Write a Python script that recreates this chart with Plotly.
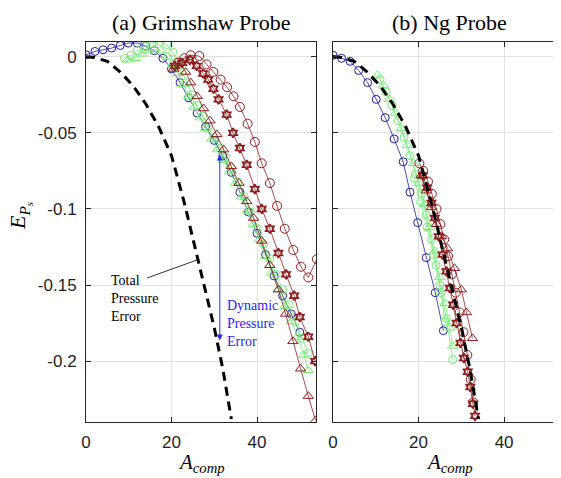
import plotly.graph_objects as go

# ---------------- data ----------------
# total pressure error (black dashed), same in both panels
tot_A = [0, 2, 5, 8, 11, 14, 17, 20, 23, 26, 28, 30, 32, 34]
tot_E = [0, -0.0005, -0.003, -0.01, -0.019, -0.031, -0.046, -0.065, -0.096, -0.131, -0.155, -0.178, -0.205, -0.238]

# (a) Grimshaw probe
g_blue_A = [0, 2.1, 4, 6, 8, 9.9, 12, 14, 16, 18, 20, 22, 24, 26, 28, 30, 32, 34, 36, 38, 40, 42, 44, 46, 48, 50]
g_blue_E = [0.0013, 0.0035, 0.0046, 0.0057, 0.0074, 0.009, 0.009, 0.007, 0.004, -0.001, -0.008, -0.017, -0.027, -0.037, -0.046, -0.055, -0.065, -0.076, -0.089, -0.102, -0.116, -0.13, -0.144, -0.157, -0.169, -0.181]

g_greenc_A = [9, 10.5, 12, 13.8, 15.4, 17.3, 18.9, 20.3, 21.5, 22.5, 23.5, 24.8, 26, 27.3, 28.6, 30, 31.3, 32.6, 34, 35.5, 37, 38.5, 40, 41.5, 43, 44.5, 46, 47.5, 49, 50.5, 52]
g_greenc_E = [-0.001, 0.001, 0.004, 0.007, 0.009, 0.01, 0.008, 0.003, -0.003, -0.01, -0.017, -0.025, -0.032, -0.039, -0.046, -0.053, -0.06, -0.066, -0.073, -0.082, -0.092, -0.102, -0.113, -0.123, -0.133, -0.143, -0.153, -0.163, -0.174, -0.185, -0.195]

g_greent_A = [9.8, 11.5, 13, 14.5, 16, 17.5, 19, 20.3, 21.5, 22.7, 24, 25.3, 26.7, 28, 29.4, 30.8, 32.2, 33.6, 35, 36.4, 37.8, 39.2, 40.6, 42, 43.5, 45, 46.5, 48, 49.5, 51, 52]
g_greent_E = [-0.002, -0.001, 0.002, 0.004, 0.005, 0.004, 0.0, -0.005, -0.011, -0.018, -0.026, -0.033, -0.04, -0.047, -0.054, -0.061, -0.068, -0.075, -0.083, -0.092, -0.101, -0.11, -0.12, -0.131, -0.142, -0.153, -0.164, -0.174, -0.184, -0.196, -0.206]

g_redt_A = [20.5, 22, 23.3, 24.5, 26, 27.5, 29, 30.6, 32.2, 34, 35.8, 37.6, 39.2, 41.1, 43, 45, 46.7, 48.4, 50.2, 52, 53.7]
g_redt_E = [-0.008, -0.004, -0.01, -0.017, -0.026, -0.034, -0.042, -0.051, -0.061, -0.072, -0.083, -0.095, -0.106, -0.121, -0.137, -0.153, -0.169, -0.187, -0.205, -0.223, -0.239]

g_reds_A = [20.8, 22.5, 24.3, 25.9, 27.4, 28.6, 29.8, 31, 32.9, 34.4, 36, 37.6, 39.5, 41.1, 43, 45, 46.8, 48.7, 50, 52, 53.6]
g_reds_E = [-0.006, -0.004, -0.002, -0.006, -0.011, -0.015, -0.021, -0.028, -0.038, -0.05, -0.06, -0.071, -0.087, -0.1, -0.113, -0.129, -0.143, -0.157, -0.171, -0.184, -0.2]

g_redc_A = [21.5, 23, 24.5, 26.5, 28.2, 29.8, 31.5, 33, 34.5, 36, 37.8, 39.5, 41.1, 43, 44.7, 46.5, 48.5, 50.3, 52, 54]
g_redc_E = [-0.004, -0.001, 0.001, 0.0005, -0.005, -0.01, -0.015, -0.02, -0.026, -0.033, -0.044, -0.056, -0.07, -0.083, -0.098, -0.113, -0.127, -0.138, -0.145, -0.133]

# (b) Ng probe
n_blue_A = [0, 2, 4, 6, 8.1, 10.1, 12.2, 14.3, 16.4, 18, 19.8, 21.8, 23.9, 25.8]
n_blue_E = [0.001, -0.001, -0.003, -0.009, -0.017, -0.028, -0.04, -0.054, -0.069, -0.089, -0.109, -0.132, -0.155, -0.18]

n_greenc_A = [11, 12.4, 13.8, 15.2, 16.6, 18, 19.3, 20.6, 21.8, 23, 24.1, 25.2, 26.2]
n_greenc_E = [-0.015, -0.023, -0.032, -0.042, -0.053, -0.065, -0.077, -0.09, -0.104, -0.12, -0.137, -0.155, -0.174]

n_greenc2_A = [19, 20.5, 22, 23.5, 25, 26.5, 28]
n_greenc2_E = [-0.08, -0.095, -0.112, -0.13, -0.15, -0.172, -0.199]

n_greent_A = [10.4, 11.8, 13.2, 14.6, 16, 17.4, 18.8, 20.1, 21.4, 22.6, 23.8, 25, 26.2, 27.3, 28]
n_greent_E = [-0.012, -0.019, -0.028, -0.037, -0.047, -0.058, -0.07, -0.083, -0.097, -0.112, -0.128, -0.145, -0.162, -0.178, -0.19]

n_redc_A = [20.2, 21.1, 22.2, 23.1, 24.2, 25.1, 26, 26.9, 27.8, 28.7, 29.6, 30.5, 31.4, 32.2, 32.8]
n_redc_E = [-0.07, -0.075, -0.082, -0.09, -0.1, -0.11, -0.12, -0.131, -0.143, -0.155, -0.168, -0.181, -0.196, -0.212, -0.227]

n_reds_A = [21, 22, 23, 23.8, 24.7, 25.6, 26.5, 27.3, 28.1, 28.9, 29.8, 30.6, 31.5, 32.1, 32.7, 33.2]
n_reds_E = [-0.078, -0.086, -0.096, -0.106, -0.118, -0.13, -0.141, -0.152, -0.163, -0.175, -0.188, -0.198, -0.207, -0.217, -0.228, -0.236]

n_redt_A = [20.6, 21.8, 23, 24.2, 25.4, 26.8, 28.4, 30, 31.2, 32.6]
n_redt_E = [-0.078, -0.088, -0.099, -0.11, -0.118, -0.126, -0.139, -0.153, -0.168, -0.185]

x_ticks = [0, 20, 40, 60]
y_ticks = [0, -0.05, -0.1, -0.15, -0.2]
y_ticktext = ["0", "-0.05", "-0.1", "-0.15", "-0.2"]

# ---------------- style ----------------
OFF = 8                      # page body margin of the html page
W, H = 561 - OFF, 478 - OFF
BLUE = "rgb(30,30,150)"
GREEN = "rgb(120,235,120)"
RED = "rgb(140,30,30)"
SERIF = "Liberation Serif, Times New Roman, serif"
SANS = "Liberation Sans, Arial, sans-serif"

def px(x):
    return (x - OFF) / W

def py(y):
    return 1 - (y - OFF) / H

fig = go.Figure()

def series(A, E, color, symbol, xa, ya, size=8, lw=1.0):
    fig.add_trace(go.Scatter(
        x=A, y=E, mode="lines+markers", xaxis=xa, yaxis=ya,
        line=dict(color=color, width=0.8),
        marker=dict(symbol=symbol, size=size, color=color,
                    line=dict(color=color, width=lw)),
        showlegend=False))

for xa, ya, blue, gc, gt, rt, rs, rc, extra in [
    ("x", "y", (g_blue_A, g_blue_E), (g_greenc_A, g_greenc_E), (g_greent_A, g_greent_E),
     (g_redt_A, g_redt_E), (g_reds_A, g_reds_E), (g_redc_A, g_redc_E), None),
    ("x2", "y2", (n_blue_A, n_blue_E), (n_greenc_A, n_greenc_E), (n_greent_A, n_greent_E),
     (n_redt_A, n_redt_E), (n_reds_A, n_reds_E), (n_redc_A, n_redc_E), (n_greenc2_A, n_greenc2_E)),
]:
    series(*blue, BLUE, "circle-open", xa, ya)
    series(*gc, GREEN, "circle-open", xa, ya)
    if extra:
        series(*extra, GREEN, "circle-open", xa, ya)
    series(*gt, GREEN, "triangle-up-open", xa, ya, size=9)
    series(*rt, RED, "triangle-up-open", xa, ya, size=9)
    series(*rs, RED, "hexagram-open", xa, ya, size=7, lw=1.8)
    series(*rc, RED, "circle-open", xa, ya, size=9)
    fig.add_trace(go.Scatter(x=tot_A, y=tot_E, mode="lines", xaxis=xa, yaxis=ya,
                             line=dict(color="black", width=3, dash="9px,6px"),
                             showlegend=False))

AX = "rgb(38,38,38)"
GRID = "rgb(225,225,225)"
common_x = dict(tickvals=x_ticks, ticks="inside", ticklen=5, tickcolor=AX,
                showline=True, linecolor=AX, linewidth=1, showgrid=True,
                gridcolor=GRID, gridwidth=1, zeroline=False, automargin=False,
                ticklabelstandoff=5,
                tickfont=dict(family=SANS, size=17, color="rgb(30,30,30)"))
common_y = dict(tickvals=y_ticks, ticktext=y_ticktext, ticks="inside", ticklen=5,
                tickcolor=AX, showline=True, linecolor=AX, linewidth=1,
                showgrid=True, gridcolor=GRID, gridwidth=1, zeroline=False,
                range=[-0.24, 0.0097], automargin=False,
                tickfont=dict(family=SANS, size=17, color="rgb(30,30,30)"))

fig.update_layout(
    width=W, height=H, margin=dict(l=0, r=0, t=0, b=0, pad=0, autoexpand=False),
    paper_bgcolor="white", plot_bgcolor="white",
    xaxis=dict(domain=[px(86), px(316)], range=[0, 53.8], anchor="y",
               mirror="ticks", **common_x),
    yaxis=dict(domain=[py(422), py(42)], anchor="x", mirror="ticks",
               ticklabelstandoff=5, **common_y),
    xaxis2=dict(domain=[px(333), 1.0], range=[0, 53.3], anchor="y2",
                mirror="ticks", **common_x),
    yaxis2=dict(domain=[py(422), py(42)], anchor="x2", showticklabels=False,
                **common_y),
)

ann = []
ann.append(dict(text="(a) Grimshaw Probe", x=px(201), y=py(22), xref="paper", yref="paper",
                showarrow=False, font=dict(family=SERIF, size=22, color="black"),
                xanchor="center", yanchor="middle"))
ann.append(dict(text="(b) Ng Probe", x=px(449), y=py(22), xref="paper", yref="paper",
                showarrow=False, font=dict(family=SERIF, size=22, color="black"),
                xanchor="center", yanchor="middle"))
for cx in (201, 449):
    ann.append(dict(text="<i>A</i><sub><i>comp</i></sub>", x=px(cx), y=py(463),
                    xref="paper", yref="paper", showarrow=False,
                    font=dict(family=SERIF, size=21, color="black"),
                    xanchor="center", yanchor="middle"))
ann.append(dict(text="<i>E</i><sub><i>P<sub>s</sub></i></sub>", x=px(20), y=py(216),
                xref="paper", yref="paper", showarrow=False, textangle=-90,
                font=dict(family=SERIF, size=22, color="black"),
                xanchor="center", yanchor="middle"))
ann.append(dict(text="Total<br>Pressure<br>Error", x=px(109), y=py(298),
                xref="paper", yref="paper", showarrow=False, align="left",
                font=dict(family=SERIF, size=14, color="black"),
                xanchor="left", yanchor="middle"))
ann.append(dict(text="Dynamic<br>Pressure<br>Error", x=px(225), y=py(323),
                xref="paper", yref="paper", showarrow=False, align="left",
                font=dict(family=SERIF, size=14, color="rgb(40,40,235)"),
                xanchor="left", yanchor="middle"))
ann.append(dict(text="", x=31.3, y=-0.0642, ax=31.3, ay=-0.1874, xref="x", yref="y",
                axref="x", ayref="y", showarrow=True, arrowside="end+start",
                arrowhead=2, arrowsize=1.2, arrowwidth=1, arrowcolor="rgb(40,40,235)"))
fig.update_layout(annotations=ann)

fig.add_shape(type="line", xref="paper", yref="paper",
              x0=px(147), y0=py(278), x1=px(197), y1=py(260),
              line=dict(color="black", width=0.8))

fig.write_html("out.html")
